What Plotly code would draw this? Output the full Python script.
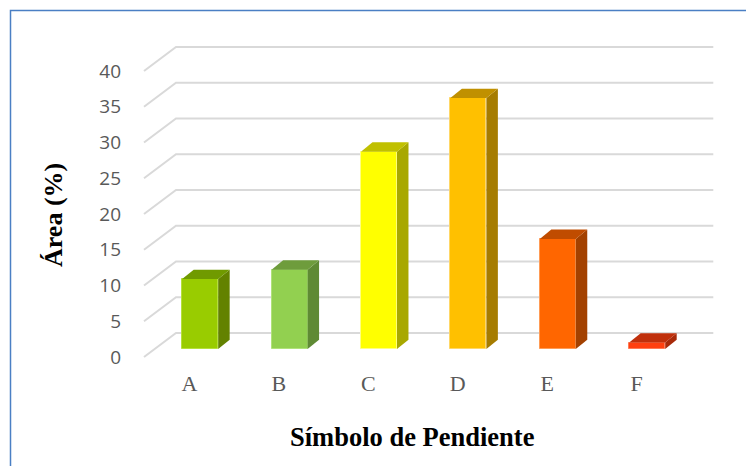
import plotly.graph_objects as go

# ---------------- data ----------------
categories = ["A", "B", "C", "D", "E", "F"]
values = [9.8, 11.1, 27.6, 35.1, 15.4, 0.9]
front_colors = ["#99CC00", "#92D050", "#FFFF00", "#FFC000", "#FF6600", "#FF4010"]
top_colors = ["#709A00", "#6E9C3C", "#C0C000", "#C09000", "#C04C00", "#C0300C"]
side_colors = ["#638200", "#5F8A34", "#A8A800", "#A67C00", "#A34100", "#A82A0A"]
edge_colors = ["#B5E03A", "#B0E27A", "#FFFF80", "#FFD766", "#FF9B55", "#FF7A55"]
y_ticks = [0, 5, 10, 15, 20, 25, 30, 35, 40]

# ---------------- geometry (pixel scale -> data scale) ----------------
W, H = 754, 466
OFF = 8            # page body margin offset
px_per_cat = 89.4
px_per_unit = 7.15
x0_px = 189.5 - OFF      # pixel of category 0 on the front plane
y0_px = 357.0 - OFF      # pixel of value 0 on the front plane
L = 125 - OFF
T = 30 - OFF
plot_right = 740 - OFF
plot_bottom = 362 - OFF
R = W - plot_right
B = H - plot_bottom
plot_w = plot_right - L
plot_h = plot_bottom - T

x_range = [(L - x0_px) / px_per_cat, (plot_right - x0_px) / px_per_cat]
y_range = [(y0_px - plot_bottom) / px_per_unit, (y0_px - T) / px_per_unit]

# floor depth (front edge -> back wall)
ox = 32 / px_per_cat
oy = 24 / px_per_unit
floor_left = (144 - OFF - x0_px) / px_per_cat
wall_right = (713.3 - OFF - x0_px) / px_per_cat

# bar geometry
d_bar = 1 / 3
bar_w = 36 / px_per_cat
bdx = 11.5 / px_per_cat
bdy = 9.3 / px_per_unit

fig = go.Figure()

# back wall / side wall gridlines (below traces)
shapes = []
for v in y_ticks:
    shapes.append(dict(type="path", layer="below", xref="x", yref="y",
                       path=f"M{floor_left},{v} L{floor_left + ox},{v + oy} L{wall_right},{v + oy}",
                       line=dict(color="#D9D9D9", width=2)))

# front faces as bars
xs = [i + d_bar * ox for i in range(len(categories))]
fig.add_trace(go.Bar(
    x=xs, y=values, base=[d_bar * oy] * len(values), width=bar_w,
    marker=dict(color=front_colors, line=dict(color=edge_colors, width=1)),
    hoverinfo="skip", showlegend=False))

# side and top faces
for i, v in enumerate(values):
    xl = xs[i] - bar_w / 2
    xr = xs[i] + bar_w / 2
    yb = d_bar * oy
    yt = v + d_bar * oy
    fig.add_trace(go.Scatter(
        x=[xr, xr + bdx, xr + bdx, xr, xr],
        y=[yb, yb + bdy, yt + bdy, yt, yb],
        fill="toself", fillcolor=side_colors[i], mode="lines",
        line=dict(width=0, color=side_colors[i]), hoverinfo="skip", showlegend=False))
    fig.add_trace(go.Scatter(
        x=[xl, xr, xr + bdx, xl + bdx, xl],
        y=[yt, yt, yt + bdy, yt + bdy, yt],
        fill="toself", fillcolor=top_colors[i], mode="lines",
        line=dict(width=0, color=top_colors[i]), hoverinfo="skip", showlegend=False))

# outer blue border
shapes.append(dict(type="rect", xref="paper", yref="paper",
                   x0=(10.5 - OFF - L) / plot_w, x1=(W + 20 - L) / plot_w,
                   y0=(plot_bottom - (H + 20)) / plot_h, y1=(plot_bottom - (10.5 - OFF)) / plot_h,
                   line=dict(color="#4A7FC4", width=1.5)))

annotations = [
    dict(text="<b>Área (%)</b>", xref="paper", yref="paper",
         x=(53 - OFF - L) / plot_w, y=(plot_bottom - (215 - OFF)) / plot_h, textangle=-90,
         showarrow=False, xanchor="center", yanchor="middle",
         font=dict(family="Liberation Serif, Times New Roman, serif", size=26, color="#000000")),
    dict(text="<b>Símbolo de Pendiente</b>", xref="paper", yref="paper",
         x=(412 - OFF - L) / plot_w, y=(plot_bottom - (437 - OFF)) / plot_h,
         showarrow=False, xanchor="center", yanchor="middle",
         font=dict(family="Liberation Serif, Times New Roman, serif", size=26.5, color="#000000")),
]

fig.update_layout(
    width=W, height=H, autosize=False,
    margin=dict(l=L, r=R, t=T, b=B, pad=0),
    paper_bgcolor="white", plot_bgcolor="white",
    shapes=shapes, annotations=annotations, showlegend=False,
    bargap=0,
    xaxis=dict(range=x_range, showgrid=False, zeroline=False, showline=False,
               tickmode="array", tickvals=list(range(len(categories))), ticktext=categories,
               ticks="", ticklabelstandoff=6,
               tickfont=dict(family="Liberation Serif, Times New Roman, serif", size=22, color="#595959"),
               fixedrange=True),
    yaxis=dict(range=y_range, showgrid=False, zeroline=False, showline=False,
               tickmode="array", tickvals=y_ticks, ticktext=[str(t) for t in y_ticks],
               ticks="", ticklabelstandoff=3,
               tickfont=dict(family="Open Sans, sans-serif", size=19, color="#595959"),
               fixedrange=True),
)

fig.write_html("out.html")
